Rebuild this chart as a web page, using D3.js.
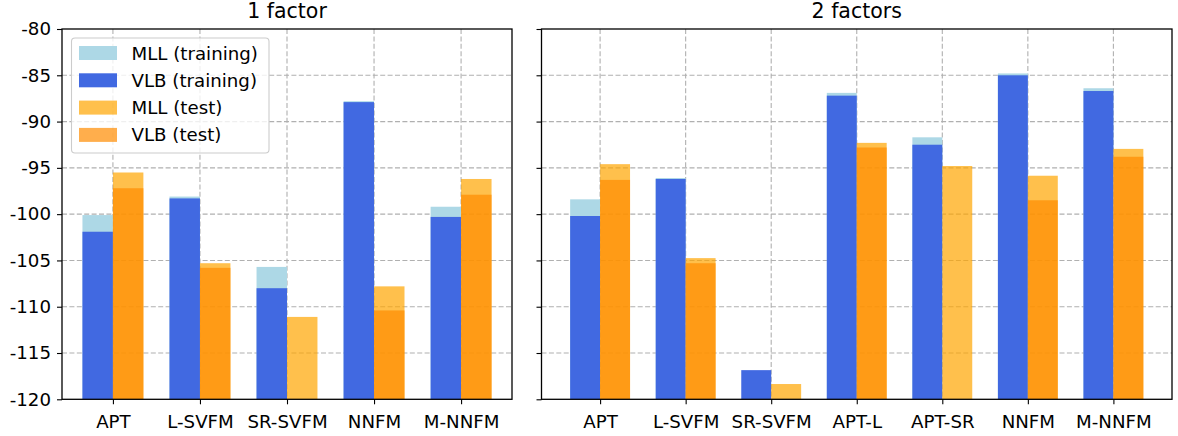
<!DOCTYPE html>
<html>
<head>
<meta charset="utf-8">
<script src="https://cdn.jsdelivr.net/npm/d3@7"></script>
<style>
  html, body { margin: 0; padding: 0; background: #fff; }
  svg text { font-family: "DejaVu Sans", sans-serif; fill: #000; }
</style>
</head>
<body>
<svg id="chart" width="1178" height="436"></svg>
<script>
// Log-likelihood results: marginal log-likelihood (MLL) and variational lower bound (VLB)
const categories1 = ["APT", "L-SVFM", "SR-SVFM", "NNFM", "M-NNFM"];
const mllTrain1 = [-100.1, -98.1, -105.7, -87.8, -99.2];
const vlbTrain1 = [-101.9, -98.3, -108.0, -87.9, -100.3];
const mllTest1  = [-95.5, -105.3, -111.1, -107.8, -96.2];
const vlbTest1  = [-97.2, -105.8, null, -110.4, -97.9];

const categories2 = ["APT", "L-SVFM", "SR-SVFM", "APT-L", "APT-SR", "NNFM", "M-NNFM"];
const mllTrain2 = [-98.4, -96.1, null, -86.9, -91.7, -84.8, -86.4];
const vlbTrain2 = [-100.2, -96.2, -116.85, -87.2, -92.5, -85.0, -86.7];
const mllTest2  = [-94.6, -104.75, -118.35, -92.3, -94.8, -95.85, -92.95];
const vlbTest2  = [-96.3, -105.3, null, -92.8, null, -98.5, -93.8];

const yTicks = [-80, -85, -90, -95, -100, -105, -110, -115, -120];
const seriesNames = ["MLL (training)", "VLB (training)", "MLL (test)", "VLB (test)"];
const seriesColors = ["#add8e6", "#4169e1", "#ffa500", "#ff8c00"];
const seriesOpacity = [1, 1, 0.7, 0.7];

const svg = d3.select("#chart");
svg.append("rect").attr("width", 1178).attr("height", 436).attr("fill", "#fff");

const plotTop = 29, plotBottom = 399.3;
const y = d3.scaleLinear().domain([-120, -80]).range([plotBottom, plotTop]);
const barW = 0.35;
const fontSize = 18.2;

function panel(opts) {
  const { left, right, title, cats, series, showLabels, legend } = opts;
  const n = cats.length;
  const pad = (n - 1 + 2 * barW) * 0.05;
  const x = d3.scaleLinear().domain([-barW - pad, n - 1 + barW + pad]).range([left, right]);
  const g = svg.append("g");

  // grid
  const grid = g.append("g").attr("stroke", "#b0b0b0").attr("stroke-width", 1.1)
    .attr("stroke-dasharray", "5,2.4");
  grid.selectAll(".hg").data(yTicks.slice(1, -1)).join("line")
    .attr("x1", left).attr("x2", right)
    .attr("y1", d => y(d)).attr("y2", d => y(d));
  grid.selectAll(".vg").data(d3.range(n)).join("line")
    .attr("x1", d => x(d)).attr("x2", d => x(d))
    .attr("y1", plotTop).attr("y2", plotBottom);

  // bars: training on the left half, test on the right half
  series.forEach((vals, si) => {
    const offset = si < 2 ? -barW : 0;
    g.append("g").selectAll("rect")
      .data(vals.map((v, i) => ({ v, i })).filter(d => d.v !== null))
      .join("rect")
      .attr("x", d => x(d.i + offset))
      .attr("width", d => x(d.i + offset + barW) - x(d.i + offset))
      .attr("y", d => y(d.v))
      .attr("height", d => y(-120) - y(d.v))
      .attr("fill", seriesColors[si])
      .attr("fill-opacity", seriesOpacity[si]);
  });

  // axes
  const xAxis = d3.axisBottom(x).tickValues(d3.range(n)).tickFormat(i => cats[i])
    .tickSizeOuter(0).tickSizeInner(5).tickPadding(6);
  const xg = g.append("g").attr("transform", `translate(0,${plotBottom})`).call(xAxis);
  xg.select(".domain").remove();
  xg.selectAll("line").attr("stroke", "#000").attr("stroke-width", 1.1);
  xg.selectAll("text").attr("font-size", fontSize).attr("font-family", "DejaVu Sans").attr("dy", "0.98em");

  const yAxis = d3.axisLeft(y).tickValues(yTicks)
    .tickFormat(d => showLabels ? String(d) : "")
    .tickSizeOuter(0).tickSizeInner(5).tickPadding(6);
  const yg = g.append("g").attr("transform", `translate(${left},0)`).call(yAxis);
  yg.select(".domain").remove();
  yg.selectAll("line").attr("stroke", "#000").attr("stroke-width", 1.1);
  yg.selectAll("text").attr("font-size", fontSize).attr("font-family", "DejaVu Sans");

  // frame
  g.append("rect").attr("x", left).attr("y", plotTop)
    .attr("width", right - left).attr("height", plotBottom - plotTop)
    .attr("fill", "none").attr("stroke", "#000").attr("stroke-width", 1.3);

  // title
  g.append("text").attr("x", (left + right) / 2).attr("y", plotTop - 11.5)
    .attr("text-anchor", "middle").attr("font-size", 20.5).text(title);

  if (legend) {
    const lx = left + 9.5, ly = plotTop + 9, lw = 197.5, lh = 115;
    const lg = g.append("g");
    lg.append("rect").attr("x", lx).attr("y", ly).attr("width", lw).attr("height", lh)
      .attr("rx", 3.5).attr("fill", "#fff").attr("fill-opacity", 0.8)
      .attr("stroke", "#cccccc").attr("stroke-width", 1.1);
    seriesNames.forEach((name, i) => {
      const ry = ly + 8 + i * 27.3;
      lg.append("rect").attr("x", lx + 7.5).attr("y", ry).attr("width", 38).attr("height", 14)
        .attr("fill", seriesColors[i]).attr("fill-opacity", seriesOpacity[i]);
      lg.append("text").attr("x", lx + 60).attr("y", ry + 7).attr("dy", "0.36em")
        .attr("font-size", fontSize).text(name);
    });
  }
}

panel({
  left: 62, right: 512, title: "1 factor", cats: categories1,
  series: [mllTrain1, vlbTrain1, mllTest1, vlbTest1], showLabels: true, legend: true
});
panel({
  left: 541.5, right: 1172, title: "2 factors", cats: categories2,
  series: [mllTrain2, vlbTrain2, mllTest2, vlbTest2], showLabels: false, legend: false
});
</script>
</body>
</html>
